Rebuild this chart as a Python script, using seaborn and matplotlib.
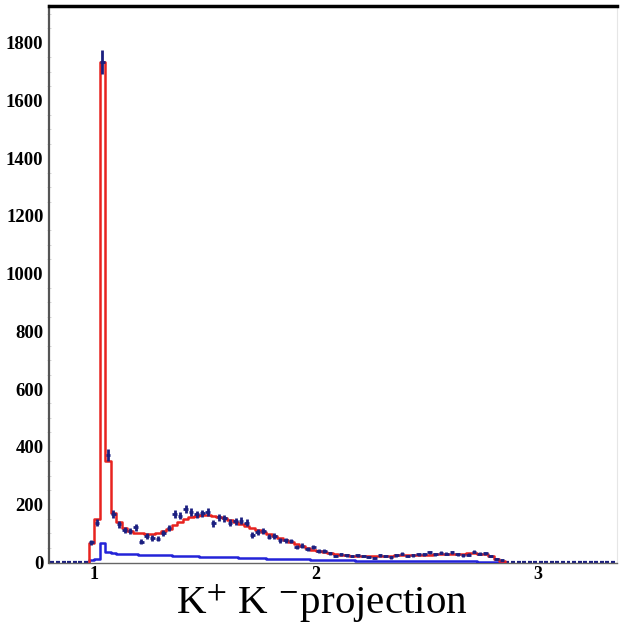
import numpy as np
import pandas as pd
import seaborn as sns
import matplotlib
matplotlib.use("Agg")
import matplotlib.pyplot as plt
from matplotlib.ticker import MultipleLocator

# ---- data (bin width 0.025, first filled bin starts at 0.975) ----
bin_start = 0.975
bin_width = 0.025
data_counts = [69, 136, 1735, 371, 166, 131, 111, 107, 120, 70,
               91, 83, 81, 102, 119, 166, 161, 183, 174, 165,
               169, 174, 134, 155, 151, 137, 141, 144, 137, 94,
               103, 108, 88, 91, 76, 76, 73, 53, 57, 45,
               53, 38, 38, 30, 21, 27, 24, 21, 24, 21,
               18, 13, 24, 21, 16, 24, 28, 21, 24, 27,
               27, 34, 27, 32, 28, 34, 27, 24, 26, 36,
               28, 30, 21, 10, 7]
fit_total = [65, 148, 1735, 351, 169, 140, 118, 107, 102, 99,
             98, 98, 101, 107, 116, 128, 140, 150, 157, 161,
             163, 163, 161, 157, 151, 145, 138, 131, 124, 118,
             111, 104, 97, 90, 83, 76, 69, 62, 55, 49,
             43, 38, 34, 30, 27, 25, 23, 22, 21, 21,
             21, 21, 21, 22, 22, 23, 23, 24, 24, 25,
             25, 26, 27, 27, 28, 28, 29, 29, 30, 30,
             29, 27, 22, 12, 5]
fit_background = [8, 12, 66, 34, 30, 29, 28, 27, 27, 26,
                  26, 25, 24, 24, 23, 22, 22, 21, 21, 20,
                  19, 19, 18, 18, 17, 17, 16, 15, 15, 14,
                  14, 13, 12, 12, 11, 11, 10, 10, 9, 9,
                  8, 8, 7, 7, 7, 6, 6, 6, 5, 5,
                  5, 5, 4, 4, 4, 4, 4, 3, 3, 3,
                  3, 3, 3, 2, 2, 2, 2, 2, 2, 2,
                  1, 1, 1, 1, 1]
x_ticks = [1, 2, 3]
y_ticks = [0, 200, 400, 600, 800, 1000, 1200, 1400, 1600, 1800]
title_text = r"K$^{+}$ K $^{-}$projection"

n = len(data_counts)
edges = bin_start + bin_width * np.arange(n + 1)
centers = edges[:-1] + bin_width / 2


def step_frame(values):
    xs = np.concatenate([[edges[0]], edges, [edges[-1]]])
    ys = np.concatenate([[0.0], np.asarray(values, float),
                         [values[-1], 0.0]])
    return pd.DataFrame({"x": xs, "y": ys})


# zero-content bins outside the filled range
xmin, xmax = 0.797, 3.356
left_zero = np.arange(bin_start - bin_width / 2, xmin, -bin_width)
right_zero = np.arange(edges[-1] + bin_width / 2, xmax, bin_width)
zero_x = np.concatenate([left_zero, right_zero])

sns.set_theme(style="white")
plt.rcParams["font.family"] = ["Liberation Serif", "DejaVu Serif"]
plt.rcParams["mathtext.fontset"] = "stix"

fig = plt.figure(figsize=(6.22, 6.26), dpi=100)
ax = fig.add_axes([49 / 622, 1 - 563.2 / 626, 568 / 622, 557.2 / 626])

navy = "#1b1f80"
ax.errorbar(zero_x, np.zeros_like(zero_x), xerr=0.009, fmt="none",
            ecolor=navy, elinewidth=1.6, zorder=2)

sns.lineplot(data=step_frame(fit_background), x="x", y="y", sort=False,
             estimator=None, drawstyle="steps-post", color="#2323d8",
             linewidth=1.8, ax=ax, zorder=3)
sns.lineplot(data=step_frame(fit_total), x="x", y="y", sort=False,
             estimator=None, drawstyle="steps-post", color="#e8231f",
             linewidth=1.8, ax=ax, zorder=4)

err = np.sqrt(np.array(data_counts, dtype=float))
ax.errorbar(centers, data_counts, yerr=err, xerr=0.0105, fmt="none",
            ecolor=navy, elinewidth=2.0, zorder=5)

ax.set_xlim(xmin, xmax)
ax.set_ylim(-4, 1928)
ax.set_xticks(x_ticks)
ax.set_yticks(y_ticks)
ax.yaxis.set_minor_locator(MultipleLocator(50))
ax.set_xlabel("")
ax.set_ylabel("")
ax.tick_params(axis="y", which="major", direction="out", length=3, width=1,
               pad=1, labelsize=13.5, colors="#333333", labelcolor="black")
ax.tick_params(axis="x", which="major", direction="out", length=2, width=1,
               pad=0, labelsize=13, colors="#333333", labelcolor="black")
ax.tick_params(axis="y", which="minor", direction="inout", length=3,
               width=0.6, colors="#d0d0d0", left=True)
for lab in ax.get_xticklabels() + ax.get_yticklabels():
    lab.set_fontweight("bold")

ax.spines["top"].set_linewidth(2.5)
ax.spines["top"].set_color("black")
ax.spines["left"].set_linewidth(1.6)
ax.spines["left"].set_color("#555555")
ax.spines["right"].set_linewidth(0.8)
ax.spines["right"].set_color("#e6e6e6")
ax.spines["bottom"].set_linewidth(1.0)
ax.spines["bottom"].set_color("#666666")

fig.text(322 / 622, 1 - 614 / 626, title_text, ha="center", va="baseline",
         fontsize=29.5, color="black")

fig.savefig("out.png", dpi=100)
